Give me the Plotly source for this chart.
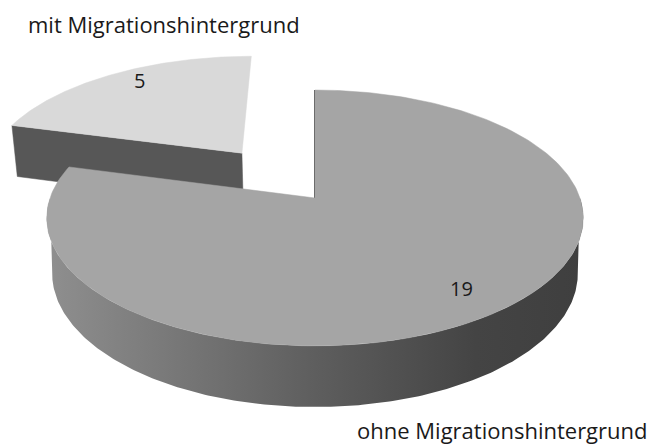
import numpy as np
import plotly.graph_objects as go

# ---- data ----
categories = ["mit Migrationshintergrund", "ohne Migrationshintergrund"]
values = [5, 19]

# ---- style / layout ----
explode = [0.48, 0.0]
top_colors = ["#d9d9d9", "#a5a5a5"]
radial_color = "#575757"
side_scale = [[0.0, "#8f8f8f"], [0.5, "#5e5e5e"], [0.8, "#444444"], [1.0, "#3f3f3f"]]
label_dy = [-8, 3]
W, H = 652, 445
CX, CY = 315.0, 198.0
F = 1497.0
DIST = 5.65
PHI = np.radians(28.1)
DEPTH = 0.2385
START = 90.0
FONT = "Open Sans"

c, s = np.cos(PHI), np.sin(PHI)


def proj(X, Y, Z):
    X = np.asarray(X, float); Y = np.asarray(Y, float); Z = np.asarray(Z, float)
    yc = Z * c + Y * s
    d = DIST + Y * c - Z * s
    return CX + F * X / d, CY - F * yc / d


def arc(t0, t1, ox, oy, z, n=240):
    t = np.radians(np.linspace(t0, t1, n))
    return proj(ox + np.cos(t), oy + np.sin(t), np.full(n, z))


total = float(sum(values))
angles = []
t = START
for v in values:
    t1 = t + 360.0 * v / total
    angles.append((t, t1))
    t = t1

fig = go.Figure()


def poly(xs, ys, color=None, gradient=None, line=None):
    kw = dict(x=np.append(xs, xs[0]), y=np.append(ys, ys[0]), mode="lines",
              fill="toself", hoverinfo="skip", showlegend=False)
    kw["line"] = line if line else dict(width=0.5, color=color)
    if gradient is not None:
        kw["fillgradient"] = gradient
    else:
        kw["fillcolor"] = color
    fig.add_trace(go.Scatter(**kw))


label_pts = []
for i, (v, (t0, t1)) in enumerate(zip(values, angles)):
    mid = np.radians((t0 + t1) / 2)
    ox, oy = explode[i] * np.cos(mid), explode[i] * np.sin(mid)
    ax_t, ay_t = proj([ox], [oy], [0])
    ax_b, ay_b = proj([ox], [oy], [-DEPTH])

    if i == 0:
        # radial face at end angle (facing viewer)
        ex, ey = ox + np.cos(np.radians(t1)), oy + np.sin(np.radians(t1))
        rx_t, ry_t = proj([ex], [ey], [0])
        rx_b, ry_b = proj([ex], [ey], [-DEPTH])
        poly(np.array([ax_t[0], rx_t[0], rx_b[0], ax_b[0]]),
             np.array([ay_t[0], ry_t[0], ry_b[0], ay_b[0]]), radial_color)
    else:
        # outer rim side, visible part between silhouettes
        a = np.degrees(np.arcsin(1.0 / (DIST * c)))
        s1, s2 = 180.0 + a, 360.0 - a
        tx, ty = arc(180.0, 360.0, ox, oy, 0)
        bx, by = arc(s2, s1, ox, oy, -DEPTH)
        poly(np.concatenate([tx, bx]), np.concatenate([ty, by]),
             gradient=dict(type="horizontal", colorscale=side_scale),
             line=dict(width=0))
        # edge-on radial face at end angle
        ex_t, ey_t = proj([ox + np.cos(np.radians(t1))], [oy + np.sin(np.radians(t1))], [0])
        fig.add_trace(go.Scatter(x=[ax_t[0], ex_t[0]], y=[ay_t[0] + 1, ey_t[0]], mode="lines",
                                 line=dict(color="#5a5a5a", width=2), hoverinfo="skip",
                                 showlegend=False))

    # top face
    tx, ty = arc(t0, t1, ox, oy, 0)
    poly(np.concatenate([[ax_t[0]], tx]), np.concatenate([[ay_t[0]], ty]), top_colors[i])

    lx, ly = proj([ox + 0.8 * np.cos(mid)], [oy + 0.8 * np.sin(mid)], [0])
    label_pts.append((lx[0], ly[0]))

for (lx, ly), v, dy in zip(label_pts, values, label_dy):
    fig.add_annotation(x=lx + 3, y=ly + dy, text=str(v), showarrow=False,
                       font=dict(family=FONT, size=20, color="#1a1a1a"))

cat_pos = [(164, 24), (502, 430)]
for (px, py), name in zip(cat_pos, categories):
    fig.add_annotation(x=px, y=py, text=name, showarrow=False,
                       font=dict(family=FONT, size=22, color="#1a1a1a"))

fig.update_layout(
    width=W, height=H, margin=dict(l=0, r=0, t=0, b=0),
    paper_bgcolor="white", plot_bgcolor="white",
    xaxis=dict(range=[0, W], visible=False, fixedrange=True),
    yaxis=dict(range=[H, 0], visible=False, fixedrange=True),
    showlegend=False,
)

fig.write_html(
    "out.html",
    config={"displayModeBar": False},
    post_script="document.documentElement.style.overflow='hidden';"
                "document.body.style.margin='0';document.body.style.overflow='hidden';",
)
